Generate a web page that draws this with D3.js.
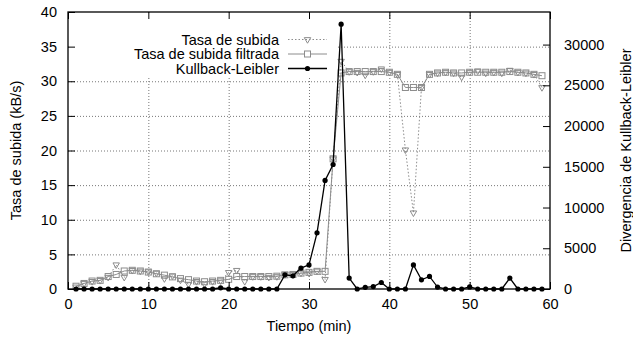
<!DOCTYPE html>
<html>
<head>
<meta charset="utf-8">
<script src="https://cdn.jsdelivr.net/npm/d3@7"></script>
<style>
  body { margin: 0; background: #fff; }
  text { font-family: "Liberation Sans", Arial, sans-serif; }
</style>
</head>
<body>
<script>
// Datos (un punto por minuto)
const minutos = d3.range(1, 60);

const tasaSubida = [0.3, 0.8, 1.1, 1.25, 1.7, 3.5, 1.7, 2.7, 2.6, 2.5,
                    2.3, 1.5, 1.9, 1.3, 0.7, 1.1, 0.7, 1.1, 1.2, 2.4,
                    2.7, 1.1, 1.8, 1.8, 1.7, 1.8, 2.1, 2.1, 2.3, 2.3,
                    2.6, 1.4, 18.8, 32.9, 31.4, 31.3, 30.9, 31.4, 31.8, 31.3,
                    31.0, 20.1, 11.0, 29.1, 31.0, 31.2, 31.3, 31.2, 30.6, 31.3,
                    31.5, 31.2, 31.3, 31.2, 31.6, 31.3, 31.2, 31.0, 29.1];

const tasaFiltrada = [0.4, 0.8, 1.15, 1.25, 1.8, 2.1, 2.6, 2.7, 2.6, 2.45,
                      2.2, 2.0, 1.75, 1.5, 1.35, 1.15, 1.05, 1.15, 1.25, 1.4,
                      1.8, 1.8, 1.8, 1.8, 1.8, 1.85, 2.05, 2.1, 2.3, 2.4,
                      2.55, 2.55, 18.8, 31.2, 31.4, 31.4, 31.4, 31.4, 31.4, 31.3,
                      31.0, 29.1, 29.1, 29.1, 31.0, 31.2, 31.3, 31.2, 31.2, 31.3,
                      31.3, 31.3, 31.3, 31.3, 31.4, 31.3, 31.2, 31.0, 30.8];

const kullbackLeibler = [0, 0, 0, 0, 0, 0, 0, 0, 0, 0,
                         0, 0, 0, 0, 0, 0, 0, 0, 150, 0,
                         0, 0, 0, 0, 0, 0, 1740, 1620, 2560, 2960,
                         6900, 13330, 15280, 32500, 1340, 0, 200, 300, 800, 0,
                         0, 0, 2960, 1130, 1540, 240, 0, 0, 0, 250,
                         0, 0, 0, 0, 1340, 0, 0, 0, 0];

const xTicks = [0, 10, 20, 30, 40, 50, 60];
const yTicks = [0, 5, 10, 15, 20, 25, 30, 35, 40];
const y2Ticks = [0, 5000, 10000, 15000, 20000, 25000, 30000];

const WIDTH = 633, HEIGHT = 338;
const margin = {top: 12, right: 83, bottom: 49, left: 68};
const width = WIDTH - margin.left - margin.right,
      height = HEIGHT - margin.top - margin.bottom;

const svg = d3.select("body").append("svg")
    .attr("width", WIDTH)
    .attr("height", HEIGHT);

const g = svg.append("g")
    .attr("transform", "translate(" + margin.left + "," + margin.top + ")");

const x = d3.scaleLinear().domain([0, 60]).range([0, width]);
const y = d3.scaleLinear().domain([0, 40]).range([height, 0]);
const y2 = d3.scaleLinear().domain([0, 34000]).range([height, 0]);

const gris = "#8c8c8c";
const fontSize = 14.5;

// rejilla punteada
g.append("g")
    .attr("class", "grid")
    .call(d3.axisLeft(y).tickValues([5, 10, 15, 20, 25, 30, 35]).tickSize(-width).tickFormat(""))
    .call(s => s.select(".domain").remove());
g.append("g")
    .attr("class", "grid")
    .attr("transform", "translate(0," + height + ")")
    .call(d3.axisBottom(x).tickValues([10, 20, 30, 40, 50]).tickSize(-height).tickFormat(""))
    .call(s => s.select(".domain").remove());
g.selectAll(".grid line")
    .attr("stroke", "#777")
    .attr("stroke-width", 1)
    .attr("stroke-dasharray", "1,2");

// series
const lineRaw = d3.line().x((d, i) => x(minutos[i])).y(d => y(d));
const lineKL = d3.line().x((d, i) => x(minutos[i])).y(d => y2(d));

g.append("path")
    .datum(tasaSubida)
    .attr("d", lineRaw)
    .attr("fill", "none")
    .attr("stroke", gris)
    .attr("stroke-width", 1)
    .attr("stroke-dasharray", "1.5,2");

const tri = d3.symbol().type(d3.symbolTriangle).size(18);
g.selectAll(".tri")
    .data(tasaSubida)
    .enter().append("path")
    .attr("class", "tri")
    .attr("d", tri)
    .attr("transform", (d, i) => "translate(" + x(minutos[i]) + "," + y(d) + ") rotate(180)")
    .attr("fill", "none")
    .attr("stroke", gris)
    .attr("stroke-width", 1);

g.append("path")
    .datum(tasaFiltrada)
    .attr("d", lineRaw)
    .attr("fill", "none")
    .attr("stroke", gris)
    .attr("stroke-width", 1);

g.selectAll(".sq")
    .data(tasaFiltrada)
    .enter().append("rect")
    .attr("class", "sq")
    .attr("x", (d, i) => x(minutos[i]) - 3)
    .attr("y", d => y(d) - 3)
    .attr("width", 6)
    .attr("height", 6)
    .attr("fill", "none")
    .attr("stroke", gris)
    .attr("stroke-width", 1);

g.append("path")
    .datum(kullbackLeibler)
    .attr("d", lineKL)
    .attr("fill", "none")
    .attr("stroke", "#000")
    .attr("stroke-width", 1.3);

g.selectAll(".dot")
    .data(kullbackLeibler)
    .enter().append("circle")
    .attr("class", "dot")
    .attr("cx", (d, i) => x(minutos[i]))
    .attr("cy", d => y2(d))
    .attr("r", 2.6)
    .attr("fill", "#000");

// leyenda (fondo opaco)
const legend = g.append("g");
legend.append("rect")
    .attr("x", 1)
    .attr("y", 1)
    .attr("width", 268)
    .attr("height", 64)
    .attr("fill", "#fff");

const items = [
    {name: "Tasa de subida", tipo: "tri"},
    {name: "Tasa de subida filtrada", tipo: "sq"},
    {name: "Kullback-Leibler", tipo: "dot"}
];
items.forEach((it, i) => {
    const cy = 27.5 + i * 14.5;
    legend.append("text")
        .attr("x", 211)
        .attr("y", cy + 5)
        .attr("text-anchor", "end")
        .attr("font-size", fontSize)
        .text(it.name);
    const ln = legend.append("line")
        .attr("x1", 220).attr("x2", 259)
        .attr("y1", cy).attr("y2", cy);
    if (it.tipo === "tri") {
        ln.attr("stroke", gris).attr("stroke-dasharray", "1.5,2");
        legend.append("path").attr("d", tri)
            .attr("transform", "translate(239.5," + cy + ") rotate(180)")
            .attr("fill", "none").attr("stroke", gris);
    } else if (it.tipo === "sq") {
        ln.attr("stroke", gris);
        legend.append("rect").attr("x", 236.5).attr("y", cy - 3)
            .attr("width", 6).attr("height", 6)
            .attr("fill", "#fff").attr("stroke", gris);
    } else {
        ln.attr("stroke", "#000").attr("stroke-width", 1.3);
        legend.append("circle").attr("cx", 239.5).attr("cy", cy).attr("r", 2.6).attr("fill", "#000");
    }
});

// ejes
const axisStyle = s => {
    s.select(".domain").remove();
    s.selectAll("text").attr("font-size", fontSize).attr("font-family", "Liberation Sans, Arial, sans-serif").attr("fill", "#000");
    s.selectAll("line").attr("stroke", "#000");
};

g.append("g")
    .call(d3.axisLeft(y).tickValues(yTicks).tickSize(-7).tickPadding(11))
    .call(axisStyle);

g.append("g")
    .attr("transform", "translate(" + width + ",0)")
    .call(d3.axisRight(y2).tickValues(y2Ticks).tickSize(-7).tickPadding(14).tickFormat(d3.format("d")))
    .call(axisStyle);

g.append("g")
    .attr("transform", "translate(0," + height + ")")
    .call(d3.axisBottom(x).tickValues(xTicks).tickSize(-7).tickPadding(10))
    .call(axisStyle);

g.append("g")
    .call(d3.axisTop(x).tickValues(xTicks).tickSize(-7).tickFormat(""))
    .call(axisStyle);

// marco
g.append("rect")
    .attr("width", width)
    .attr("height", height)
    .attr("fill", "none")
    .attr("stroke", "#000")
    .attr("stroke-width", 1.3);

// títulos de ejes
g.append("text")
    .attr("transform", "translate(" + (width / 2) + "," + (height + 42) + ")")
    .attr("text-anchor", "middle")
    .attr("font-size", fontSize)
    .text("Tiempo (min)");

g.append("text")
    .attr("transform", "translate(" + (-margin.left + 21) + "," + (height / 2) + ") rotate(-90)")
    .attr("text-anchor", "middle")
    .attr("font-size", fontSize)
    .text("Tasa de subida (kB/s)");

g.append("text")
    .attr("transform", "translate(" + (width + 81) + "," + (height / 2) + ") rotate(-90)")
    .attr("text-anchor", "middle")
    .attr("font-size", fontSize)
    .text("Divergencia de Kullback-Leibler");
</script>
</body>
</html>
